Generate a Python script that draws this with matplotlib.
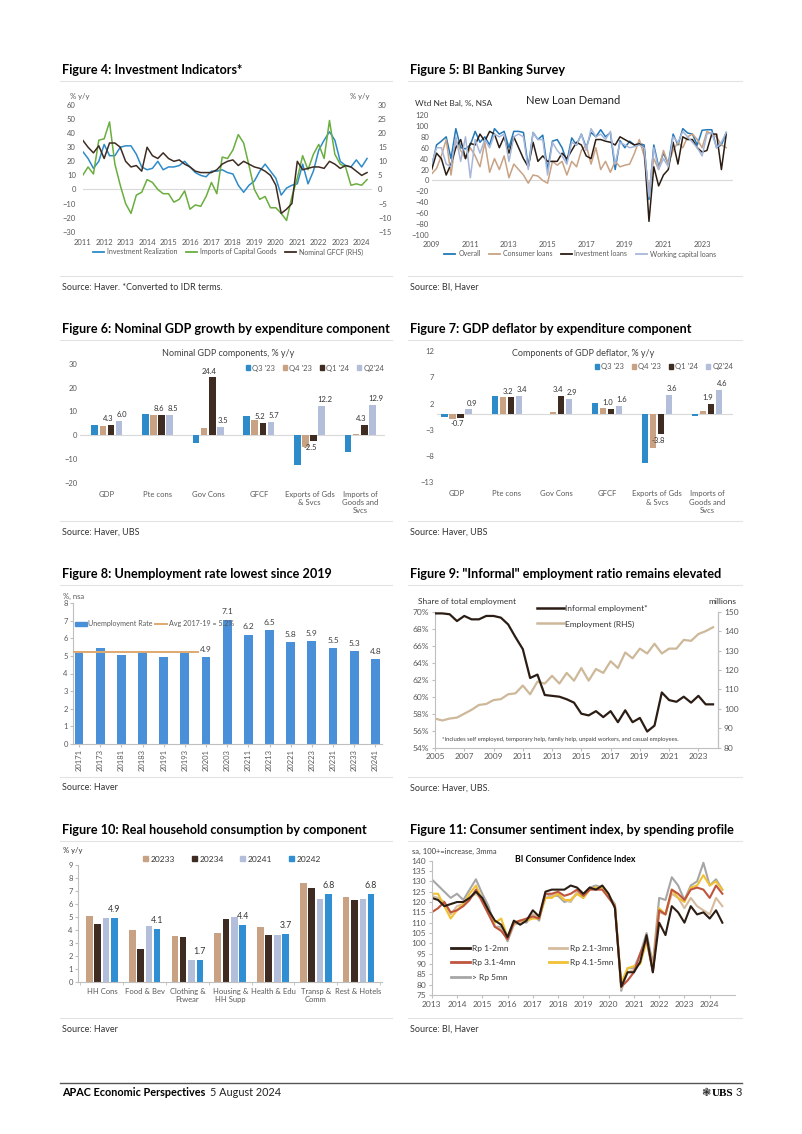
import matplotlib
matplotlib.use('Agg')
import matplotlib.pyplot as plt
import numpy as np
from matplotlib.patches import Patch
from matplotlib.lines import Line2D

# ---------------- DATA ----------------
# Figure 4 (quarterly 2011Q1-2024Q2)
inv_real = [27, 22, 15, 20, 32, 24, 24, 30, 31, 31, 25, 16, 14, 15, 20, 14,
            16, 16, 17, 20, 16, 12, 10, 9, 13, 13, 14, 12, 11, 3, -2, 3,
            6, 13, 18, 13, 8, -4, 1, 3, 4, 18, 4, 13, 28, 35, 41, 35,
            20, 17, 16, 21, 16, 22]
imp_cap = [10, 16, 11, 35, 36, 48, 18, 3, -10, -17, -4, -2, 7, 5, 0, -3,
           -3, -9, -7, -1, -14, -11, -12, -5, 5, -3, 23, 22, 28, 39, 33, 17,
           0, -7, -5, -13, -13, -17, -22, -5, 8, 24, 14, 25, 32, 22, 49, 25,
           18, 16, 3, 4, 3, 7]
gfcf = [17.5, 15, 13, 15.5, 11, 16.5, 16.5, 15, 10, 8, 8.5, 6.5, 15, 12, 11, 13,
        11, 10, 10.5, 9, 8, 6.5, 6, 6, 6, 7, 9, 10, 10.5, 8.5, 10, 9,
        8, 7.5, 6.5, 5, 1.5, -8.5, -7, -5, 10, 7, 7.5, 8, 8, 7.5, 10, 9,
        7.5, 8.5, 8, 6.5, 5, 6]
fig4_years = list(range(2011, 2025))

# Figure 5 (quarterly 2009Q1-2024Q2)
loan_overall = [25, 65, 72, 80, 40, 95, 60, 58, 65, 90, 70, 80, 65, 95, 85, 90,
                60, 90, 90, 88, 25, 88, 75, 83, 20, 72, 75, 60, 35, 78, 65, 85,
                60, 88, 80, 93, 80, 88, 20, 73, 60, 72, 65, 68, 65, -35, 65, 25,
                50, 30, 85, 65, 95, 87, 85, 65, 92, 93, 93, 60, 65, 88]
loan_consumer = [12, 22, 45, 75, 10, 75, 55, 40, 60, 45, 25, 70, 15, 40, 20, 45,
                 5, 30, 20, 10, -5, 10, 8, 0, -5, 35, 28, 35, 10, 35, 25, 55,
                 65, 30, 60, 20, 35, 15, 35, 25, 28, 30, 50, 75, 45, -20, 40, 20,
                 55, 30, 55, 70, 60, 80, 85, 75, 60, 90, 85, 80, 65, 60]
loan_invest = [20, 50, 40, 10, 30, 60, 75, 40, 68, 65, 85, 72, 90, 85, 60, 80,
               50, 80, 60, 40, 25, 70, 35, 45, 35, 35, 35, 50, 40, 55, 70, 65,
               45, 40, 75, 75, 72, 70, 65, 80, 75, 70, 65, 67, 60, -75, 25, -10,
               10, 20, 70, 30, 80, 75, 75, 60, 52, 55, 85, 85, 20, 85]
loan_working = [30, 60, 60, 30, 25, 80, 35, 80, 5, 75, 50, 75, 60, 85, 80, 85,
                35, 80, 85, 80, 20, 88, 75, 75, 10, 70, 55, 45, 30, 70, 65, 85,
                55, 95, 80, 85, 75, 90, 30, 70, 65, 60, 62, 65, 60, -30, 60, 20,
                40, 25, 80, 70, 90, 80, 70, 60, 45, 85, 88, 60, 70, 88]
fig5_years = list(range(2009, 2025, 2))

# Figure 6 / 7 (bars)
gdp_cats = ['GDP', 'Pte cons', 'Gov Cons', 'GFCF', 'Exports of Gds\n& Svcs',
            'Imports of\nGoods and\nSvcs']
quarters = ["Q3 '23", "Q4 '23", "Q1 '24", "Q2'24"]
nom_q3_23 = [4.4, 8.8, -3.2, 8.0, -12.7, -7.1]
nom_q4_23 = [3.7, 8.4, 3.1, 6.4, -5.1, 0.6]
nom_q1_24 = [4.3, 8.6, 24.4, 5.2, -2.5, 4.3]
nom_q2_24 = [6.0, 8.5, 3.5, 5.7, 12.2, 12.9]
defl_q3_23 = [-0.5, 3.5, 0.1, 2.2, -9.3, -0.3]
defl_q4_23 = [-1.0, 3.3, 0.4, 1.2, -6.5, 0.6]
defl_q1_24 = [-0.7, 3.2, 3.4, 1.0, -3.8, 1.9]
defl_q2_24 = [0.9, 3.4, 2.9, 1.6, 3.6, 4.6]

# Figure 8
unemp_labels = ['20171', '20173', '20181', '20183', '20191', '20193', '20201', '20203',
                '20211', '20213', '20221', '20223', '20231', '20233', '20241']
unemp_rate = [5.28, 5.47, 5.06, 5.2, 4.96, 5.19, 4.92, 7.07, 6.22, 6.46, 5.8, 5.86,
              5.46, 5.3, 4.8]
unemp_avg = 5.2

# Figure 9 (half-yearly 2005-2024)
informal_share = [69.8, 69.8, 69.7, 68.9, 69.5, 69.1, 69.1, 69.5, 69.5, 69.3,
                  68.5, 67.0, 65.6, 62.2, 62.6, 60.2, 60.1, 60.0, 59.7, 59.3,
                  58.0, 57.8, 58.3, 57.6, 58.3, 57.0, 58.4, 57.0, 57.5, 55.9,
                  56.6, 60.5, 59.6, 59.4, 60.0, 59.3, 60.1, 59.1, 59.1]
employment_mn = [95, 94, 95, 95.5, 97.5, 99.5, 102, 102.5, 104.5, 105,
                 107.5, 108, 112, 107.5, 114, 113, 117, 113, 118.5, 114.5,
                 121, 114.5, 120.5, 118.5, 124.5, 121, 129, 126, 131, 128.5,
                 133.5, 128.5, 131, 131, 135.5, 135, 138.5, 140, 142]
fig9_years = list(range(2005, 2024, 2))

# Figure 10
hh_cats = ['HH Cons', 'Food & Bev', 'Clothing &\nFtwear', 'Housing &\nHH Supp',
           'Health & Edu', 'Transp &\nComm', 'Rest & Hotels']
hh_periods = ['20233', '20234', '20241', '20242']
hh_20233 = [5.05, 4.0, 3.56, 3.76, 4.22, 7.65, 6.51]
hh_20234 = [4.47, 2.56, 3.47, 4.85, 3.65, 7.23, 6.35]
hh_20241 = [4.91, 4.32, 1.73, 4.99, 3.66, 6.41, 6.4]
hh_20242 = [4.93, 4.1, 1.7, 4.4, 3.7, 6.8, 6.8]

# Figure 11 (quarterly 2013Q1-2024Q3)
cci_1_2 = [122, 121, 118, 119, 120, 120, 122, 125, 122, 116, 111, 109,
           103, 111, 109, 111, 116, 113, 125, 126, 126, 126, 128, 127,
           124, 127, 126, 128, 124, 117, 79, 86, 86, 91, 104, 86,
           110, 104, 118, 115, 110, 118, 114, 115, 112, 116, 110]
cci_21_3 = [123, 122, 120, 114, 118, 119, 122, 124, 121, 115, 108, 107,
            102, 109, 110, 111, 114, 113, 122, 123, 124, 121, 120, 125,
            122, 126, 127, 126, 123, 118, 78, 86, 87, 91, 104, 87,
            115, 114, 124, 122, 117, 122, 118, 116, 114, 122, 118]
cci_31_4 = [115, 117, 120, 115, 116, 118, 121, 126, 120, 114, 108, 106,
            102, 110, 111, 112, 113, 112, 124, 124, 125, 123, 124, 126,
            123, 126, 126, 126, 122, 118, 79, 82, 86, 95, 102, 86,
            116, 114, 126, 124, 121, 126, 127, 126, 122, 128, 124]
cci_41_5 = [124, 124, 118, 112, 116, 119, 124, 128, 121, 116, 110, 112,
            103, 110, 111, 111, 112, 112, 122, 122, 124, 121, 121, 124,
            122, 126, 127, 127, 123, 118, 81, 88, 89, 90, 101, 87,
            117, 114, 126, 122, 120, 127, 128, 133, 128, 130, 126]
cci_5 = [131, 128, 125, 122, 124, 121, 126, 131, 124, 118, 108, 108,
         101, 109, 111, 110, 114, 111, 124, 123, 123, 120, 121, 124,
         122, 127, 128, 127, 123, 119, 77, 88, 88, 95, 105, 90,
         122, 121, 132, 128, 121, 128, 130, 139, 128, 131, 126]
fig11_years = list(range(2013, 2025))

# ---------------- STYLE ----------------
W, H = 802, 1134
plt.rcParams['font.family'] = ['Lato', 'DejaVu Sans']
GREY_TXT = '#595959'
BLUE = '#2E8BC9'
TAN = '#C8A283'
DARK = '#3E2C22'
LIGHT = '#B3BEDB'
GREEN = '#6AAE3E'
ZERO = '#D9D9D9'
TS = 5.5

fig = plt.figure(figsize=(W / 100, H / 100), dpi=100)


def AX(x0, y0, x1, y1):
    return fig.add_axes([x0 / W, 1 - y1 / H, (x1 - x0) / W, (y1 - y0) / H])


def T(x, y, s, **kw):
    kw.setdefault('va', 'center')
    return fig.text(x / W, 1 - y / H, s, **kw)


def HL(x0, x1, y, color='#E3E3E3', lw=0.8):
    fig.add_artist(Line2D([x0 / W, x1 / W], [1 - y / H, 1 - y / H], color=color, lw=lw))


def clean(ax, spines=()):
    for s in ['top', 'right', 'left', 'bottom']:
        ax.spines[s].set_visible(s in spines)
        ax.spines[s].set_color('#BFBFBF')
        ax.spines[s].set_linewidth(0.8)
    ax.tick_params(labelsize=TS, colors=GREY_TXT, length=0, pad=2)
    ax.set_facecolor('none')


def fleg(ax, handles, labels, cx, cy, **kw):
    d = dict(loc='center', bbox_to_anchor=(cx / W, 1 - cy / H),
             bbox_transform=fig.transFigure, frameon=False, fontsize=TS,
             handlelength=1.6, handletextpad=0.4, columnspacing=1.2,
             labelcolor=GREY_TXT)
    d.update(kw)
    return ax.legend(handles, labels, **d)


TITLE_KW = dict(fontsize=9.1, fontweight='bold', ha='left')
SRC_KW = dict(fontsize=6.5, ha='left', color='#333333')

# Titles, separators and sources
for (x, y, s) in [(62, 70, 'Figure 4: Investment Indicators*'),
                  (410, 70, 'Figure 5: BI Banking Survey'),
                  (62, 329, 'Figure 6: Nominal GDP growth by expenditure component'),
                  (410, 329, 'Figure 7: GDP deflator by expenditure component'),
                  (62, 574, 'Figure 8: Unemployment rate lowest since 2019'),
                  (410, 574, 'Figure 9: "Informal" employment ratio remains elevated'),
                  (62, 830, 'Figure 10: Real household consumption by component'),
                  (410, 830, 'Figure 11: Consumer sentiment index, by spending profile')]:
    T(x, y, s, **TITLE_KW)
for y in [81, 340, 585, 841, 276, 521, 777, 1018]:
    HL(60, 392, y)
    HL(408, 742, y)
for (x, y, s) in [(62, 287, 'Source: Haver. *Converted to IDR terms.'),
                  (410, 287, 'Source: BI, Haver'),
                  (62, 532, 'Source: Haver, UBS'),
                  (410, 532, 'Source: Haver, UBS'),
                  (62, 788, 'Source: Haver'),
                  (410, 788, 'Source: Haver, UBS.'),
                  (62, 1029, 'Source: Haver'),
                  (410, 1029, 'Source: BI, Haver')]:
    T(x, y, s, **SRC_KW)

# ---------------- FIGURE 4 ----------------
ax = AX(82.7, 105, 372.4, 231.7)
x4 = 2011 + 0.25 * np.arange(len(inv_real))
ax.axhline(0, color=ZERO, lw=0.8, zorder=0)
ax.plot(x4, inv_real, color=BLUE, lw=1.1)
ax.plot(x4, imp_cap, color=GREEN, lw=1.1)
ax.set_xlim(2011, 2024.5)
ax.set_ylim(-30, 60)
ax.set_yticks(range(-30, 61, 10))
ax.set_xticks(fig4_years)
ax.set_xticklabels([str(y) for y in fig4_years])
clean(ax)
ax.tick_params(axis='x', pad=5)
ax.tick_params(axis='y', pad=5)
ax2 = ax.twinx()
ax2.plot(x4, gfcf, color=DARK, lw=1.1)
ax2.set_ylim(-15, 30)
ax2.set_yticks(range(-15, 31, 5))
clean(ax2)
ax2.tick_params(axis='y', pad=4)
T(80, 97, '% y/y', fontsize=TS, color=GREY_TXT, ha='center')
T(360, 97, '% y/y', fontsize=TS, color=GREY_TXT, ha='center')
hs = [Line2D([], [], color=BLUE, lw=1.3), Line2D([], [], color=GREEN, lw=1.3),
      Line2D([], [], color=DARK, lw=1.3)]
fleg(ax2, hs, ['Investment Realization', 'Imports of Capital Goods', 'Nominal GFCF (RHS)'],
     228, 252, ncol=3, fontsize=5)

# ---------------- FIGURE 5 ----------------
ax = AX(431.7, 115, 733, 235)
x5 = 2009 + 0.25 * np.arange(len(loan_overall))
ax.axhline(0, color=ZERO, lw=0.8, zorder=0)
c_over, c_cons, c_inv, c_work = '#2378B8', '#C8A283', '#2B1D14', '#A7B7D9'
ax.plot(x5, loan_overall, color=c_over, lw=1.1)
ax.plot(x5, loan_consumer, color=c_cons, lw=1.1)
ax.plot(x5, loan_invest, color=c_inv, lw=1.1)
ax.plot(x5, loan_working, color=c_work, lw=1.1)
ax.set_xlim(2009, 2024.6)
ax.set_ylim(-100, 120)
ax.set_yticks(range(-100, 121, 20))
ax.set_xticks(fig5_years)
clean(ax)
ax.tick_params(axis='x', pad=4)
T(415, 103, 'Wtd Net Bal, %, NSA', fontsize=6, color='#333333', ha='left')
T(573, 100, 'New Loan Demand', fontsize=8, color='#222222', ha='center')
hs = [Line2D([], [], color=c, lw=1.3) for c in (c_over, c_cons, c_inv, c_work)]
fleg(ax, hs, ['Overall', 'Consumer loans', 'Investment loans', 'Working capital loans'],
     580, 254, ncol=4, fontsize=5)

# ---------------- FIGURE 6 & 7 ----------------
bar_cols = [BLUE, TAN, DARK, LIGHT]
offs = [-0.24, -0.08, 0.08, 0.24]
bw = 0.13
lab_dx = {2: -2.2, 3: 2.2}


def gdp_bars(ax, series, lab_fmt):
    xc = np.arange(len(gdp_cats))
    for k, (vals, col) in enumerate(zip(series, bar_cols)):
        ax.bar(xc + offs[k], vals, width=bw, color=col, zorder=2)
        if k >= 2:
            for xi, v in zip(xc + offs[k], vals):
                ax.annotate(lab_fmt % v, (xi, v), xytext=(lab_dx[k], 2 if v >= 0 else -2),
                            textcoords='offset points', ha='center',
                            va='bottom' if v >= 0 else 'top', fontsize=5.5, color='#333333')
    ax.axhline(0, color=ZERO, lw=0.8, zorder=1)
    ax.set_xticks(xc)
    ax.set_xticklabels(gdp_cats, fontsize=TS, va='top')
    clean(ax)


ax = AX(80, 364, 385, 482.7)
gdp_bars(ax, [nom_q3_23, nom_q4_23, nom_q1_24, nom_q2_24], '%.1f')
ax.set_xlim(-0.53, 5.49)
ax.set_ylim(-20, 30)
ax.set_yticks(range(-20, 31, 10))
ax.tick_params(axis='x', pad=6)
T(228, 354, 'Nominal GDP components, % y/y', fontsize=6.5, color='#404040', ha='center')
hs = [Patch(color=c) for c in bar_cols]
fleg(ax, hs, quarters, 315, 368, ncol=4, handlelength=0.6, handleheight=0.6,
     handletextpad=0.25, columnspacing=1.0)

ax = AX(436.7, 351.3, 733, 482)
gdp_bars(ax, [defl_q3_23, defl_q4_23, defl_q1_24, defl_q2_24], '%.1f')
ax.set_xlim(-0.4, 5.52)
ax.set_ylim(-13, 12)
ax.set_yticks([-13, -8, -3, 2, 7, 12])
ax.tick_params(axis='x', pad=6)
T(583, 354, 'Components of GDP deflator, % y/y', fontsize=6.5, color='#404040', ha='center')
fleg(ax, hs, quarters, 664, 367, ncol=4, handlelength=0.6, handleheight=0.6,
     handletextpad=0.25, columnspacing=1.0)

# ---------------- FIGURE 8 ----------------
ax = AX(73.3, 603.3, 381.7, 743.7)
x8 = np.arange(len(unemp_rate))
UB = '#4A90D9'
ax.bar(x8, unemp_rate, width=0.42, color=UB, zorder=2)
ax.plot([-0.27, 5.6], [unemp_avg, unemp_avg], color='#E0A96D', lw=1.4, zorder=3)
for xi, v in zip(x8[6:], unemp_rate[6:]):
    ax.annotate('%.1f' % v, (xi, v), xytext=(0, 3), textcoords='offset points',
                ha='center', va='bottom', fontsize=6, color='#404040')
ax.set_xlim(-0.27, 14.3)
ax.set_ylim(0, 8)
ax.set_yticks(range(0, 9))
ax.set_xticks(x8)
ax.set_xticklabels(unemp_labels, rotation=90, fontsize=5)
clean(ax, spines=('left', 'bottom'))
ax.tick_params(length=2, color='#BFBFBF')
T(63, 596, '%, nsa', fontsize=TS, color=GREY_TXT, ha='left')
hs = [Patch(color=UB), Line2D([], [], color='#E0A96D', lw=1.4)]
ax.legend(hs, ['Unemployment Rate', 'Avg 2017-19 = 5.2%'], loc='upper left',
          bbox_to_anchor=(-0.005, 0.9), ncol=2, frameon=False, fontsize=5.1,
          handlelength=1.7, handleheight=0.5, handletextpad=0.2, columnspacing=0.4,
          borderaxespad=0.0, labelcolor=GREY_TXT)

# ---------------- FIGURE 9 ----------------
ax = AX(435, 611.7, 718.3, 747.7)
x9 = 2005 + 0.5 * np.arange(len(informal_share))
c_inf, c_emp = '#2B1D14', '#CDB99A'
l1, = ax.plot(x9, informal_share, color=c_inf, lw=1.6, zorder=3)
ax.set_xlim(2005, 2024.36)
ax.set_ylim(54, 70)
ax.set_yticks(range(54, 71, 2))
ax.set_yticklabels(['%d%%' % v for v in range(54, 71, 2)])
ax.set_xticks(fig9_years)
clean(ax, spines=('left', 'bottom', 'right'))
ax.tick_params(labelsize=6, length=2, color='#BFBFBF')
ax2 = ax.twinx()
l2, = ax2.plot(x9, employment_mn, color=c_emp, lw=1.6)
ax2.set_ylim(80, 150)
ax2.set_yticks(range(80, 151, 10))
clean(ax2, spines=('right',))
ax2.tick_params(labelsize=6, length=2, color='#BFBFBF')
ax.set_zorder(ax2.get_zorder() + 1)
T(418, 601, 'Share of total employment', fontsize=6, color='#333333', ha='left')
T(722, 602, 'millions', fontsize=6, color='#333333', ha='center')
ax.legend([Line2D([], [], color=c_inf, lw=1.8), Line2D([], [], color=c_emp, lw=1.8)],
          ['Informal employment*', 'Employment (RHS)'], loc='upper left',
          bbox_to_anchor=(537 / W, 1 - 605 / H), bbox_transform=fig.transFigure,
          frameon=False, fontsize=6, labelspacing=1.0, handlelength=3.2,
          handletextpad=0.2, borderaxespad=0.0, borderpad=0.0, labelcolor='#333333')
T(442, 739, '*Includes self employed, temporary help, family help, unpaid workers, and casual employees.',
  fontsize=4.2, color='#404040', ha='left')

# ---------------- FIGURE 10 ----------------
ax = AX(78.3, 865, 381.7, 982.3)
xc = np.arange(len(hh_cats))
hh_cols = [TAN, DARK, LIGHT, '#2F8FD2']
hh_offs = [-0.29, -0.1, 0.1, 0.29]
for k, (vals, col) in enumerate(zip([hh_20233, hh_20234, hh_20241, hh_20242], hh_cols)):
    ax.bar(xc + hh_offs[k], vals, width=0.155, color=col, zorder=2)
for xi, v in zip(xc + hh_offs[3], hh_20242):
    ax.annotate('%.1f' % v, (xi, v), xytext=(0, 3), textcoords='offset points',
                ha='center', va='bottom', fontsize=6.3, color='#333333')
ax.set_xlim(-0.55, 6.54)
ax.set_ylim(0, 9)
ax.set_yticks(range(0, 10))
ax.set_xticks(xc)
ax.set_xticklabels(hh_cats, fontsize=5.5, va='top')
clean(ax, spines=('left', 'bottom'))
ax.tick_params(length=2, color='#BFBFBF')
ax.set_xticks(np.arange(-0.5, 6.6, 1), minor=True)
ax.tick_params(axis='x', which='major', length=0, pad=4)
ax.tick_params(axis='x', which='minor', length=2, color='#BFBFBF')
T(63, 851, '% y/y', fontsize=TS, color='#333333', ha='left')
fleg(ax, [Patch(color=c) for c in hh_cols], hh_periods, 232, 859, ncol=4,
     handlelength=0.6, handleheight=0.6, handletextpad=0.3, columnspacing=2.0,
     fontsize=6, labelcolor='#333333')

# ---------------- FIGURE 11 ----------------
ax = AX(431.7, 860.7, 735, 995)
x11 = 2013 + 0.25 * np.arange(len(cci_1_2))
cc = ['#2B1D14', '#D6BC9F', '#C0553F', '#F0C233', '#A6A6A6']
for vals, col in zip([cci_5, cci_21_3, cci_41_5, cci_31_4, cci_1_2],
                     [cc[4], cc[1], cc[3], cc[2], cc[0]]):
    ax.plot(x11, vals, color=col, lw=1.5)
ax.set_xlim(2013, 2025)
ax.set_ylim(75, 140)
ax.set_yticks(range(75, 141, 5))
ax.set_xticks(fig11_years)
clean(ax, spines=('left', 'bottom'))
ax.tick_params(labelsize=6, length=2, color='#BFBFBF')
T(412, 851, 'sa, 100+=increase, 3mma', fontsize=5.5, color='#404040', ha='left')
T(575, 860, 'BI Consumer Confidence Index', fontsize=6.3, fontweight='bold', ha='center')
hl = [Line2D([], [], color=c, lw=2) for c in cc]
ax.legend([hl[0], hl[2], hl[4], hl[1], hl[3]],
          ['Rp 1-2mn', 'Rp 3.1-4mn', '> Rp 5mn', 'Rp 2.1-3mn', 'Rp 4.1-5mn'],
          loc='lower left', bbox_to_anchor=(0.04, 0.05), ncol=2, frameon=False,
          fontsize=6, handlelength=2.2, handletextpad=0.3, columnspacing=4.0,
          labelspacing=0.9, labelcolor='#333333')

# ---------------- FOOTER ----------------
HL(60, 742, 1083, color='#555555', lw=1.0)
t1 = T(62, 1093, 'APAC Economic Perspectives', fontsize=7.8, fontweight='bold', ha='left')
fig.canvas.draw()
bb = t1.get_window_extent()
T(bb.x1 + 5, 1093, '5 August 2024', fontsize=7.8, ha='left', color='#222222')
T(711, 1093, '\u2743', fontsize=8, ha='right', color='#222222', family=['DejaVu Sans'])
T(712, 1093, 'UBS', fontsize=8, ha='left', fontweight='bold', family=['Liberation Serif'])
T(742, 1093, '3', fontsize=8, ha='right', color='#222222')

fig.savefig('out.png', dpi=100)
